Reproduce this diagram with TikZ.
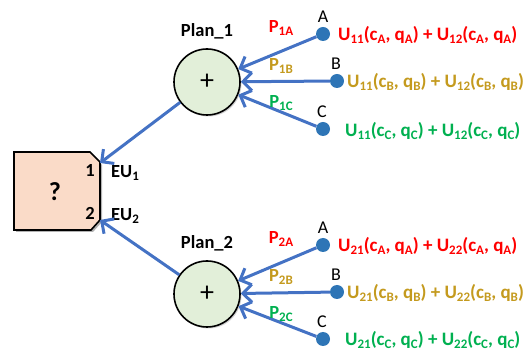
\documentclass[tikz,border=0pt]{standalone}
\usepackage{fontspec}
\setmainfont{Carlito}
\usetikzlibrary{arrows.meta,shadows}
\definecolor{cred}{HTML}{FF0000}
\definecolor{cgold}{HTML}{C49A1E}
\definecolor{cgreen}{HTML}{00B050}
\definecolor{cblue}{HTML}{4472C4}
\definecolor{cdot}{HTML}{2E75B6}
\definecolor{cpeach}{HTML}{FADBC8}
\definecolor{cmint}{HTML}{E2EFD9}
\newcommand{\sbx}[1]{\raisebox{-0.35ex}{\fontsize{13}{13}\selectfont #1}}
\begin{document}
\begin{tikzpicture}[x=1pt,y=-1pt,
  plan/.style={circle,draw=black,line width=1.6pt,fill=cmint,minimum size=66pt,inner sep=0pt,
    drop shadow={shadow xshift=1.5pt,shadow yshift=-1.5pt,opacity=0.35}},
  dotn/.style={circle,fill=cdot,minimum size=14pt,inner sep=0pt},
  conn/.style={cblue,line width=3pt,-{Straight Barb[length=9pt,width=18pt,line width=3pt]}},
  lbl/.style={font=\fontsize{18}{20}\selectfont,inner sep=0pt},
  blbl/.style={font=\bfseries\fontsize{18.5}{20}\selectfont,inner sep=0pt},
  ftxt/.style={font=\bfseries\fontsize{19}{20}\selectfont,anchor=west,inner sep=0pt},
  plbl/.style={font=\bfseries\fontsize{18.5}{20}\selectfont,inner sep=0pt}
]
\useasboundingbox (0,0) rectangle (525,352);
% decision box
\fill[black,opacity=0.3] (16,155) -- (92,155) -- (102,165) -- (102,222) -- (93,232) -- (16,232) -- cycle;
\draw[line width=1.6pt,fill=cpeach] (14,152) -- (90,152) -- (100,162) -- (100,220) -- (91,230) -- (14,230) -- cycle;
\coordinate (in1) at (100,163);
\coordinate (in2) at (100,220);
\node[blbl,font=\bfseries\fontsize{26}{28}\selectfont] (q) at (55,192) {?};
\node[blbl] (n1) at (90,170) {1};
\node[blbl] (n2) at (90,213) {2};
\node[blbl,anchor=west] (eu1) at (111,173) {EU\sbx{1}};
\node[blbl,anchor=west] (eu2) at (111,216) {EU\sbx{2}};

% plans
\node[plan] (p1) at (207,82) {\fontsize{28}{28}\selectfont +};
\node[plan] (p2) at (207,294) {\fontsize{28}{28}\selectfont +};
\node[blbl] (pl1) at (207,31) {Plan\_1};
\node[blbl] (pl2) at (207,243) {Plan\_2};

\draw[conn] (p1) -- (in1);
\draw[conn] (p2) -- (in2);

% dots plan 1
\node[dotn] (a1) at (323,34) {};
\node[dotn] (b1) at (337,81) {};
\node[dotn] (c1) at (323,129) {};
\node[lbl] (la1) at (323,17) {A};
\node[lbl] (lb1) at (336,64) {B};
\node[lbl] (lc1) at (322,112) {C};
\draw[conn] (a1) -- (p1);
\draw[conn] (b1) -- (p1);
\draw[conn] (c1) -- (p1);
\node[plbl,text=cred] (pa1) at (281,28) {P\sbx{1A}};
\node[plbl,text=cgold] (pb1) at (281,66) {P\sbx{1B}};
\node[plbl,text=cgreen] (pc1) at (281,103) {P\sbx{1C}};

% dots plan 2
\node[dotn] (a2) at (323,245) {};
\node[dotn] (b2) at (337,292) {};
\node[dotn] (c2) at (323,339) {};
\node[lbl] (la2) at (323,228) {A};
\node[lbl] (lb2) at (336,275) {B};
\node[lbl] (lc2) at (322,322) {C};
\draw[conn] (a2) -- (p2);
\draw[conn] (b2) -- (p2);
\draw[conn] (c2) -- (p2);
\node[plbl,text=cred] (pa2) at (281,239) {P\sbx{2A}};
\node[plbl,text=cgold] (pb2) at (281,277) {P\sbx{2B}};
\node[plbl,text=cgreen] (pc2) at (281,314) {P\sbx{2C}};

% formulas
\node[ftxt,text=cred] (fa1) at (338,35) {U\sbx{11}(c\sbx{A}, q\sbx{A}) + U\sbx{12}(c\sbx{A}, q\sbx{A})};
\node[ftxt,text=cgold] (fb1) at (347,82) {U\sbx{11}(c\sbx{B}, q\sbx{B}) + U\sbx{12}(c\sbx{B}, q\sbx{B})};
\node[ftxt,text=cgreen] (fc1) at (345,131) {U\sbx{11}(c\sbx{C}, q\sbx{C}) + U\sbx{12}(c\sbx{C}, q\sbx{C})};
\node[ftxt,text=cred] (fa2) at (338,246) {U\sbx{21}(c\sbx{A}, q\sbx{A}) + U\sbx{22}(c\sbx{A}, q\sbx{A})};
\node[ftxt,text=cgold] (fb2) at (347,293) {U\sbx{21}(c\sbx{B}, q\sbx{B}) + U\sbx{22}(c\sbx{B}, q\sbx{B})};
\node[ftxt,text=cgreen] (fc2) at (345,340) {U\sbx{21}(c\sbx{C}, q\sbx{C}) + U\sbx{22}(c\sbx{C}, q\sbx{C})};
\end{tikzpicture}
\end{document}
